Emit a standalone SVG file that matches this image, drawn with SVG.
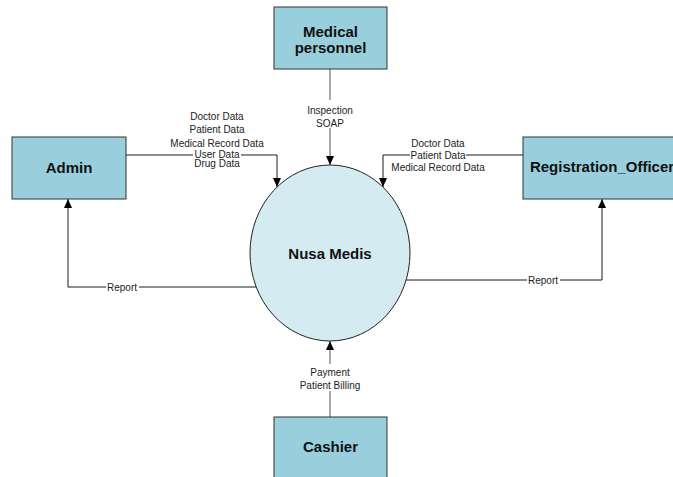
<svg xmlns="http://www.w3.org/2000/svg" width="673" height="477" viewBox="0 0 673 477">
  <style>
    .entity { fill: #99cfdc; stroke: #333333; stroke-width: 1; }
    .process { fill: #d3ebf1; stroke: #222222; stroke-width: 1; }
    .name { font-family: "Liberation Sans", Arial, sans-serif; font-size: 15px; font-weight: bold; fill: #111111; text-anchor: middle; }
    .flow { fill: none; stroke: #1a1a1a; stroke-width: 1; marker-end: url(#arrow); }
    .flow-v { fill: none; stroke: #555555; stroke-width: 1; marker-end: url(#arrow); }
    .lbl { font-family: "Liberation Sans", Arial, sans-serif; font-size: 10px; fill: #222222; text-anchor: middle; }
    .bg { fill: #ffffff; }
  </style>
  <defs>
    <marker id="arrow" markerUnits="userSpaceOnUse" markerWidth="10" markerHeight="8" refX="9" refY="4" orient="auto">
      <path d="M0,0 L9,4 L0,8 z" fill="#000000"/>
    </marker>
  </defs>

  <rect width="673" height="477" fill="#ffffff"/>

  <!-- data flows -->
  <g id="connectors">
    <path class="flow" d="M126,155 H277 V187"/>
    <path class="flow" d="M523,155 H383 V187"/>
    <path class="flow-v" d="M330,69 V165"/>
    <path class="flow-v" d="M330,417 V341"/>
    <path class="flow" d="M256,287 H68 V199"/>
    <path class="flow" d="M406,280 H602 V199"/>

    <!-- flow labels -->
    <g id="admin-in-labels">
      <text class="lbl" x="217" y="120">Doctor Data</text>
      <text class="lbl" x="217" y="133">Patient Data</text>
      <text class="lbl" x="217" y="147">Medical Record Data</text>
      <rect class="bg" x="193" y="150" width="48" height="9"/>
      <text class="lbl" x="217" y="158">User Data</text>
      <text class="lbl" x="217" y="167">Drug Data</text>
    </g>
    <g id="reg-in-labels">
      <text class="lbl" x="438" y="146.5">Doctor Data</text>
      <rect class="bg" x="410" y="151" width="56" height="9"/>
      <text class="lbl" x="438" y="158.5">Patient Data</text>
      <text class="lbl" x="438" y="170.5">Medical Record Data</text>
    </g>
    <g id="medical-labels">
      <rect class="bg" x="305" y="100" width="50" height="28"/>
      <text class="lbl" x="330" y="113.5">Inspection</text>
      <text class="lbl" x="330" y="126.5">SOAP</text>
    </g>
    <g id="cashier-labels">
      <rect class="bg" x="297" y="364" width="66" height="27"/>
      <text class="lbl" x="330" y="376">Payment</text>
      <text class="lbl" x="330" y="388.5">Patient Billing</text>
    </g>
    <rect class="bg" x="106" y="282" width="33" height="10"/>
    <text class="lbl" x="122" y="290.5">Report</text>
    <rect class="bg" x="527" y="275" width="33" height="10"/>
    <text class="lbl" x="543" y="283.5">Report</text>
  </g>

  <!-- external entities -->
  <g id="admin">
    <rect class="entity" x="12" y="137" width="114" height="62"/>
    <text class="name" x="69" y="173">Admin</text>
  </g>
  <g id="medical-personnel">
    <rect class="entity" x="274" y="7" width="113" height="62"/>
    <text class="name" x="330.5" y="37">Medical</text>
    <text class="name" x="330.5" y="53">personnel</text>
  </g>
  <g id="registration-officer">
    <rect class="entity" x="523" y="137" width="158" height="62"/>
    <text class="name" x="602" y="172">Registration_Officer</text>
  </g>
  <g id="cashier">
    <rect class="entity" x="274" y="417" width="113" height="62"/>
    <text class="name" x="330.5" y="452">Cashier</text>
  </g>

  <!-- central process -->
  <g id="nusa-medis">
    <ellipse class="process" cx="330" cy="253" rx="80" ry="88"/>
    <text class="name" x="330" y="259">Nusa Medis</text>
  </g>
</svg>
